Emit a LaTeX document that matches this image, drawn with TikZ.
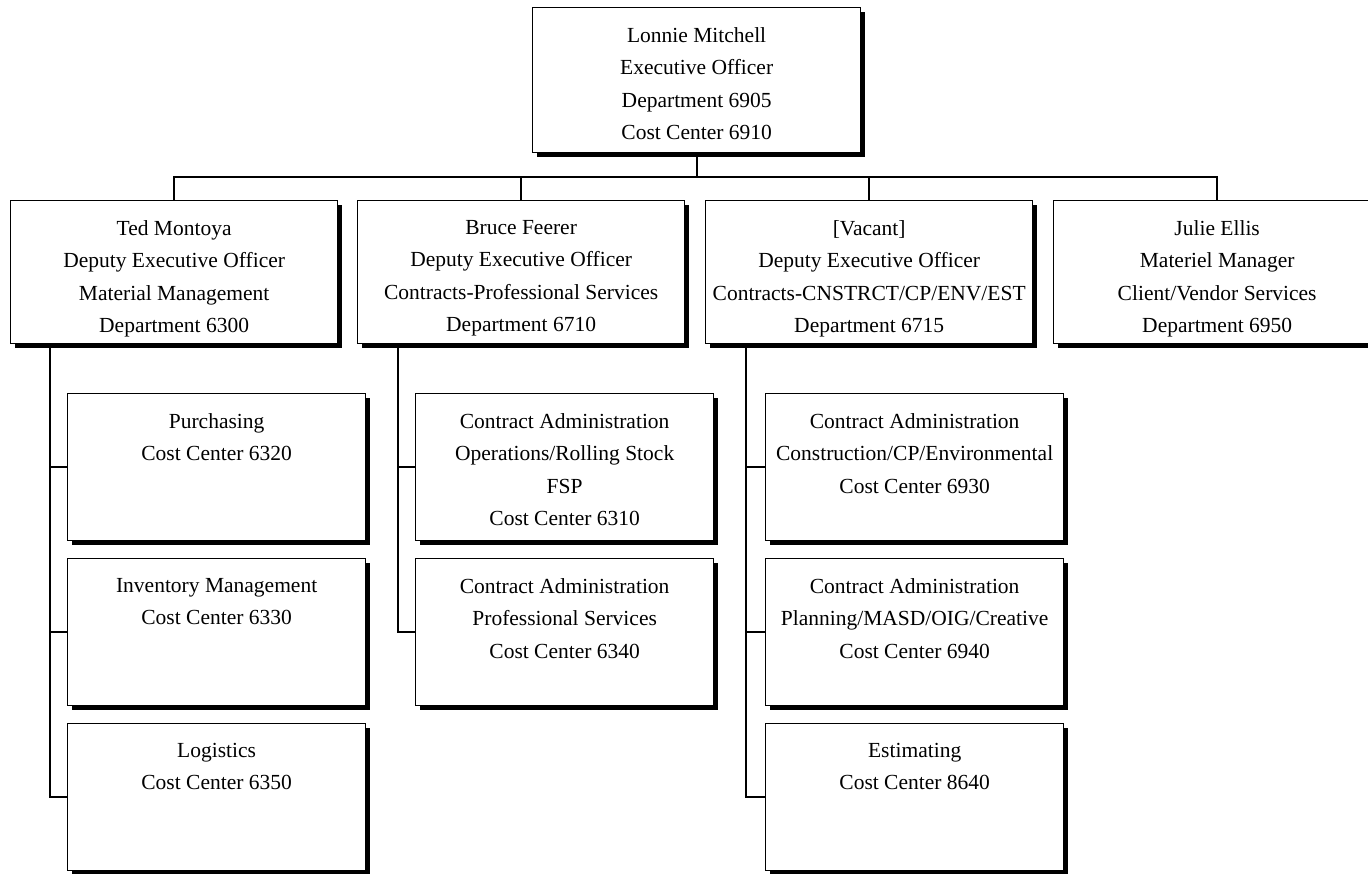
\documentclass[tikz,border=0pt]{standalone}
\usepackage{fontspec}
\setmainfont{Liberation Serif}
\usetikzlibrary{shadows}
\begin{document}
\begin{tikzpicture}[x=1pt,y=-1pt,
 unit/.style={draw,line width=1.3pt,fill=white,inner sep=0pt,anchor=north west,
  drop shadow={shadow xshift=4pt,shadow yshift=-4pt,fill=black,opacity=1}},
 head/.style={unit,minimum width=327pt,minimum height=143pt},
 leaf/.style={unit,minimum width=298pt,minimum height=147pt},
 txt/.style={anchor=north,yshift=-20pt,align=center,inner sep=0pt,font=\fontsize{21.5}{32.5}\selectfont},
 link/.style={line width=1.8pt}]
 \useasboundingbox (0,0) rectangle (1368,874);
 \node[unit,minimum width=328pt,minimum height=145pt] (lonnie) at (532,7) {};
 \node[txt] (lonnietxt) at (lonnie.north) {Lonnie Mitchell\\Executive Officer\\Department 6905\\Cost Center 6910};
 \node[head] (ted) at (10,200) {};
 \node[txt] (tedtxt) at (ted.north) {Ted Montoya\\Deputy Executive Officer\\Material Management\\Department 6300};
 \node[head] (bruce) at (357,200) {};
 \node[txt] (brucetxt) at (bruce.north) {Bruce Feerer\\Deputy Executive Officer\\Contracts-Professional Services\\Department 6710};
 \node[head] (vacant) at (705,200) {};
 \node[txt] (vacanttxt) at (vacant.north) {[Vacant]\\Deputy Executive Officer\\Contracts-CNSTRCT/CP/ENV/EST\\Department 6715};
 \node[head] (julie) at (1053,200) {};
 \node[txt] (julietxt) at (julie.north) {Julie Ellis\\Materiel Manager\\Client/Vendor Services\\Department 6950};
 \node[leaf] (purch) at (67,393) {};
 \node[txt] (purchtxt) at (purch.north) {Purchasing\\Cost Center 6320};
 \node[leaf] (inv) at (67,558) {};
 \node[txt] (invtxt) at (inv.north) {Inventory Management\\Cost Center 6330};
 \node[leaf] (logi) at (67,723) {};
 \node[txt] (logitxt) at (logi.north) {Logistics\\Cost Center 6350};
 \node[leaf] (ops) at (415,393) {};
 \node[txt] (opstxt) at (ops.north) {Contract Administration\\Operations/Rolling Stock\\FSP\\Cost Center 6310};
 \node[leaf] (prof) at (415,558) {};
 \node[txt] (proftxt) at (prof.north) {Contract Administration\\Professional Services\\Cost Center 6340};
 \node[leaf] (cons) at (765,393) {};
 \node[txt] (constxt) at (cons.north) {Contract Administration\\Construction/CP/Environmental\\Cost Center 6930};
 \node[leaf] (plan) at (765,558) {};
 \node[txt] (plantxt) at (plan.north) {Contract Administration\\Planning/MASD/OIG/Creative\\Cost Center 6940};
 \node[leaf] (est) at (765,723) {};
 \node[txt] (esttxt) at (est.north) {Estimating\\Cost Center 8640};
 \coordinate (bar) at (0,177);
 \coordinate (tsp) at (50,0);
 \coordinate (bsp) at (398,0);
 \coordinate (vsp) at (746,0);
 \draw[link] (lonnie.south) -- (lonnie.south |- bar);
 \draw[link] (ted.north) |- (bar -| julie.north) -- (julie.north);
 \draw[link] (bruce.north) -- (bruce.north |- bar);
 \draw[link] (vacant.north) -- (vacant.north |- bar);
 \draw[link] (ted.south -| tsp) |- (logi.west);
 \draw[link] (purch.west -| tsp) -- (purch.west);
 \draw[link] (inv.west -| tsp) -- (inv.west);
 \draw[link] (bruce.south -| bsp) |- (prof.west);
 \draw[link] (ops.west -| bsp) -- (ops.west);
 \draw[link] (vacant.south -| vsp) |- (est.west);
 \draw[link] (cons.west -| vsp) -- (cons.west);
 \draw[link] (plan.west -| vsp) -- (plan.west);
\end{tikzpicture}
\end{document}
